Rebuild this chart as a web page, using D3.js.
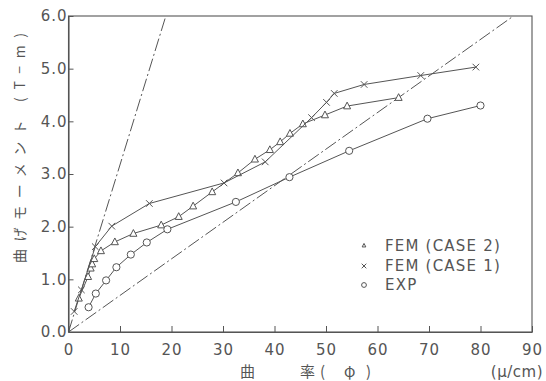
<!DOCTYPE html>
<html><head><meta charset="utf-8">
<script src="https://cdn.jsdelivr.net/npm/d3@7"></script>
<style>
html,body{margin:0;padding:0;background:#fff;}
svg{display:block;}
text{font-family:"DejaVu Sans",sans-serif;fill:#555;}
</style></head>
<body>
<svg id="chart" width="546" height="381"></svg>
<script>
// ---- data ----
const xTickValues = [0,10,20,30,40,50,60,70,80,90];
const yTickValues = [0,1,2,3,4,5,6];
const yTickLabels = ["0.0","1.0","2.0","3.0","4.0","5.0","6.0"];

const case2X = [2.0,3.8,4.3,4.6,5.0,6.3,9.0,12.6,18.0,21.4,24.2,27.9,32.9,36.2,39.1,41.1,43.0,45.5,49.8,54.1,64.1];
const case2Y = [0.64,1.05,1.21,1.29,1.39,1.54,1.71,1.87,2.03,2.19,2.39,2.66,3.02,3.28,3.46,3.61,3.77,3.95,4.12,4.29,4.45];

const case1X = [1.1,2.5,5.2,8.4,15.7,30.2,38.2,47.2,50.1,51.6,57.4,68.4,79.1];
const case1Y = [0.39,0.80,1.62,2.01,2.44,2.83,3.23,4.07,4.36,4.53,4.70,4.87,5.03];

const expX = [3.9,5.3,7.3,9.3,12.1,15.2,19.2,32.5,42.9,54.5,69.7,80.0];
const expY = [0.47,0.73,0.98,1.23,1.47,1.70,1.95,2.47,2.94,3.44,4.05,4.30];

const steepLineX = [0,18.9];
const steepLineY = [0,6.0];
const shallowLineX = [0,86.4];
const shallowLineY = [0,6.0];

const legendLabels = ["FEM (CASE 2)","FEM (CASE 1)","EXP"];
const xTitleParts = ["曲","率","(","φ",")"];
const xUnit = "(μ/cm)";
const yTitle = "曲げモーメント (T−m)";

// ---- layout ----
const svg = d3.select("#chart");
const L = 68.5, R = 532, T = 16, B = 332;
const x = d3.scaleLinear().domain([0,90]).range([L,R]);
const y = d3.scaleLinear().domain([0,6]).range([B,T]);
const ink = "#555";

// frame
svg.append("rect").attr("x",L).attr("y",T).attr("width",R-L).attr("height",B-T)
  .attr("fill","none").attr("stroke",ink).attr("stroke-width",1.1);

// axes
const xAxis = d3.axisBottom(x).tickValues(xTickValues).tickSizeInner(-6).tickSizeOuter(0).tickPadding(12).tickFormat(d3.format("d"));
const gx = svg.append("g").attr("transform",`translate(0,${B})`).call(xAxis);
const yAxis = d3.axisLeft(y).tickValues(yTickValues).tickSizeInner(-5).tickSizeOuter(0).tickPadding(7).tickFormat((d,i)=>yTickLabels[i]);
const gy = svg.append("g").attr("transform",`translate(${L},0)`).call(yAxis);
[gx,gy].forEach(g=>{
  g.select(".domain").attr("stroke",ink).attr("stroke-width",1.1);
  g.selectAll(".tick line").attr("stroke",ink);
  g.selectAll(".tick text").attr("fill",ink).style("font-size","15px")
    .style("font-family","'DejaVu Sans',sans-serif").style("letter-spacing","1px");
});
gy.selectAll(".tick text").attr("x",-1);

// reference dash-dot lines
const line = d3.line().x(d=>x(d[0])).y(d=>y(d[1]));
[[steepLineX,steepLineY],[shallowLineX,shallowLineY]].forEach(([xs,ys])=>{
  svg.append("path").datum(xs.map((v,i)=>[v,ys[i]])).attr("d",line)
    .attr("fill","none").attr("stroke",ink).attr("stroke-width",1)
    .attr("stroke-dasharray","13,3,2,3");
});

// series
const series = [
  {xs:case2X, ys:case2Y, sym:"tri"},
  {xs:case1X, ys:case1Y, sym:"x"},
  {xs:expX, ys:expY, sym:"circ"}
];
function drawSym(g, sym, cx, cy, s){
  if(sym==="tri"){
    const h = s*0.9;
    g.append("path").attr("d",`M${cx},${cy-h}L${cx+s*0.8},${cy+h*0.7}L${cx-s*0.8},${cy+h*0.7}Z`)
      .attr("fill","#fff").attr("stroke",ink).attr("stroke-width",1);
  } else if(sym==="x"){
    g.append("path").attr("d",`M${cx-s},${cy-s}L${cx+s},${cy+s}M${cx-s},${cy+s}L${cx+s},${cy-s}`)
      .attr("stroke",ink).attr("stroke-width",1).attr("fill","none");
  } else {
    g.append("circle").attr("cx",cx).attr("cy",cy).attr("r",s)
      .attr("fill","#fff").attr("stroke",ink).attr("stroke-width",1);
  }
}
series.forEach(s=>{
  const pts = s.xs.map((v,i)=>[v,s.ys[i]]);
  svg.append("path").datum(pts).attr("d",line).attr("fill","none")
    .attr("stroke",ink).attr("stroke-width",1);
  const g = svg.append("g");
  const size = s.sym==="circ"?3.6:(s.sym==="tri"?4.4:3.3);
  pts.forEach(p=>drawSym(g, s.sym, x(p[0]), y(p[1]), size));
});

// legend
const legY = [245.5,266,285];
const legSyms = ["tri","x","circ"];
legendLabels.forEach((t,i)=>{
  const g = svg.append("g");
  drawSym(g, legSyms[i], 364, legY[i], legSyms[i]==="circ"?2.4:2.3);
  svg.append("text").attr("x",385).attr("y",legY[i]).attr("dy","0.36em")
    .style("font-size","15px").style("letter-spacing","1.2px").text(t);
});

// axis titles
const xTitleX = [240,300,320,344,366];
xTitleParts.forEach((t,i)=>{
  svg.append("text").attr("x",xTitleX[i]).attr("y",377).style("font-size","15px")
    .style("font-family","'Noto Sans CJK JP',sans-serif").text(t);
});
svg.append("text").attr("x",543).attr("y",377).attr("text-anchor","end").style("font-size","15px")
  .style("letter-spacing","0.5px").text(xUnit);
svg.append("text").attr("transform","translate(19,263) rotate(-90)")
  .attr("dominant-baseline","central").attr("textLength",230).attr("lengthAdjust","spacing")
  .style("font-size","14px").style("font-family","'Noto Sans CJK JP',sans-serif").text(yTitle);
</script>
</body></html>
